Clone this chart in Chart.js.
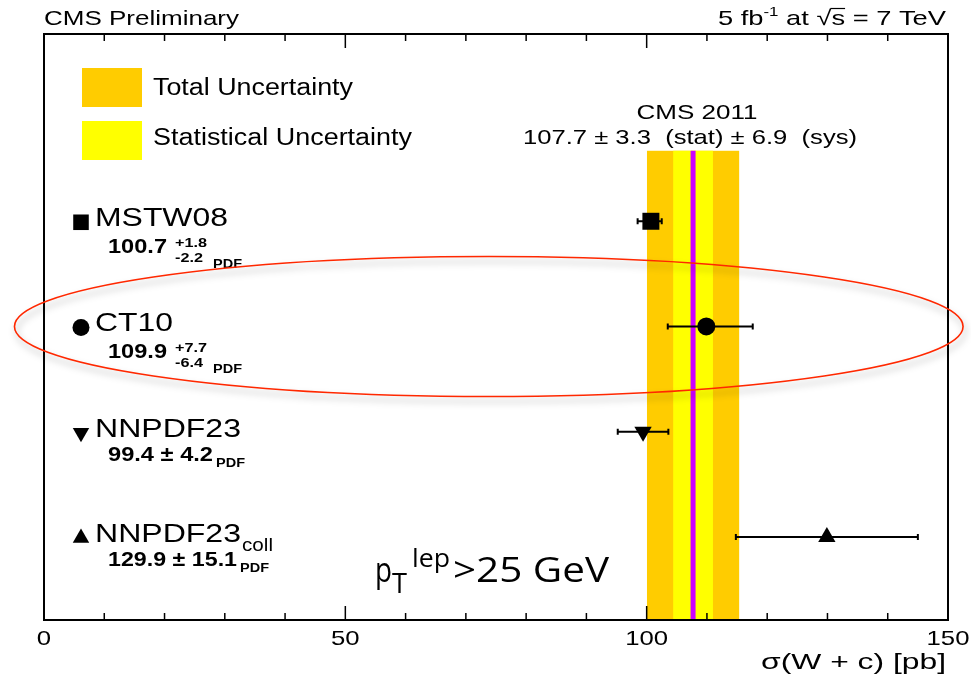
<!DOCTYPE html>
<html>
<head>
<meta charset="utf-8">
<script src="https://cdn.jsdelivr.net/npm/chart.js@4.4.1/dist/chart.umd.min.js"></script>
<style>
  body { margin: 0; background: #fff; }
  #wrap { width: 971px; height: 678px; }
</style>
</head>
<body>
<div id="wrap"><canvas id="c" width="971" height="678"></canvas></div>
<script>
// W+c cross section, CMS 2011 vs PDF predictions
var models = ['MSTW08', 'CT10', 'NNPDF23', 'NNPDF23'];
var modelSub = ['', '', '', 'coll'];
var xsec = [100.7, 109.9, 99.4, 129.9];
var errUp = [1.8, 7.7, 4.2, 15.1];
var errDown = [2.2, 6.4, 4.2, 15.1];
var markers = ['rect', 'circle', 'triangle', 'triangle'];
var markerRot = [0, 0, 180, 0];
var markerSize = [12, 9, 10, 10];

var cmsValue = 107.7;
var cmsStat = 3.3;
var cmsSys = 6.9;

var xTicks = [0, 50, 100, 150];

// text helper: w = target width (stretches horizontally like the ROOT output)
function txt(ctx, s, x, y, font, w, align) {
  ctx.save();
  ctx.font = font;
  ctx.textBaseline = 'alphabetic';
  ctx.textAlign = align || 'left';
  var m = ctx.measureText(s).width;
  var sx = w ? w / m : 1;
  ctx.translate(x, y);
  ctx.scale(sx, 1);
  ctx.fillText(s, 0, 0);
  ctx.restore();
}

var ROOTFONT = 'Liberation Sans';

var figPlugin = {
  id: 'fig',
  beforeDatasetsDraw: function(chart) {
    var ctx = chart.ctx, a = chart.chartArea, x = chart.scales.x, y = chart.scales.y;
    var tot = Math.sqrt(cmsStat * cmsStat + cmsSys * cmsSys);
    var top = y.getPixelForValue(-0.67);
    ctx.save();
    ctx.fillStyle = '#ffcc00';
    var l = x.getPixelForValue(cmsValue - tot), r = x.getPixelForValue(cmsValue + tot);
    ctx.fillRect(l, top, r - l, a.bottom - top);
    ctx.fillStyle = '#ffff00';
    l = x.getPixelForValue(cmsValue - cmsStat); r = x.getPixelForValue(cmsValue + cmsStat);
    ctx.fillRect(l, top, r - l, a.bottom - top);
    ctx.strokeStyle = '#cc00ff';
    ctx.lineWidth = 5;
    var c = x.getPixelForValue(cmsValue);
    ctx.beginPath(); ctx.moveTo(c, top); ctx.lineTo(c, a.bottom); ctx.stroke();

    // error bars
    ctx.strokeStyle = '#000';
    ctx.lineWidth = 2;
    for (var i = 0; i < xsec.length; i++) {
      var py = y.getPixelForValue(i);
      var x0 = x.getPixelForValue(xsec[i] - errDown[i]);
      var x1 = x.getPixelForValue(xsec[i] + errUp[i]);
      ctx.beginPath();
      ctx.moveTo(x0, py); ctx.lineTo(x1, py);
      ctx.moveTo(x0, py - 3); ctx.lineTo(x0, py + 3);
      ctx.moveTo(x1, py - 3); ctx.lineTo(x1, py + 3);
      ctx.stroke();
    }
    ctx.restore();
  },
  afterDatasetsDraw: function(chart) {
    var ctx = chart.ctx, a = chart.chartArea, x = chart.scales.x;
    ctx.save();
    ctx.strokeStyle = '#000';
    ctx.lineWidth = 2;
    ctx.strokeRect(a.left, a.top, a.right - a.left, a.bottom - a.top);
    ctx.lineWidth = 1.5;
    ctx.beginPath();
    for (var v = 0; v <= 150; v += 10) {
      var px = x.getPixelForValue(v);
      var len = (v % 50 === 0) ? 14 : 7;
      ctx.moveTo(px, a.bottom); ctx.lineTo(px, a.bottom - len);
      ctx.moveTo(px, a.top); ctx.lineTo(px, a.top + len);
    }
    ctx.stroke();
    ctx.restore();
  },
  afterDraw: function(chart) {
    var ctx = chart.ctx, a = chart.chartArea, x = chart.scales.x, y = chart.scales.y;
    ctx.save();
    ctx.fillStyle = '#000';

    // tick labels and axis title
    xTicks.forEach(function(v) {
      var s = String(v);
      txt(ctx, s, x.getPixelForValue(v), 645, '21px ' + ROOTFONT, s.length * 14.3, 'center');
    });
    txt(ctx, 'σ(W + c) [pb]', 946, 669, '22px ' + ROOTFONT, 185, 'right');

    // header
    txt(ctx, 'CMS Preliminary', 44, 25, '21px ' + ROOTFONT, 195, 'left');
    var sx = 1.3;
    ctx.font = '21px ' + ROOTFONT;
    var p1 = '5 fb', p3 = ' at ', p4 = '\u221A', p5 = 's', p6 = ' = 7 TeV';
    var w1 = ctx.measureText(p1).width, w3 = ctx.measureText(p3).width,
        w4 = ctx.measureText(p4).width, w5 = ctx.measureText(p5).width, w6 = ctx.measureText(p6).width;
    ctx.font = '13px ' + ROOTFONT;
    var w2 = ctx.measureText('-1').width;
    var total = (w1 + w2 + w3 + w4 + w5 + w6) * sx;
    var cx = 946 - total;
    txt(ctx, p1, cx, 25, '21px ' + ROOTFONT, w1 * sx); cx += w1 * sx;
    txt(ctx, '-1', cx, 16, '13px ' + ROOTFONT, w2 * sx); cx += w2 * sx;
    txt(ctx, p3, cx, 25, '21px ' + ROOTFONT, w3 * sx); cx += w3 * sx;
    txt(ctx, p4, cx, 25, '21px ' + ROOTFONT, w4 * sx);
    var sqStart = cx + w4 * sx - 1; cx += w4 * sx;
    txt(ctx, p5, cx, 25, '21px ' + ROOTFONT, w5 * sx); cx += w5 * sx;
    ctx.lineWidth = 1.2;
    ctx.beginPath(); ctx.moveTo(sqStart, 8.5); ctx.lineTo(cx, 8.5); ctx.stroke();
    txt(ctx, p6, cx, 25, '21px ' + ROOTFONT, w6 * sx);

    // legend
    ctx.fillStyle = '#ffcc00';
    ctx.fillRect(82, 68, 60, 39);
    ctx.fillStyle = '#ffff00';
    ctx.fillRect(82, 121, 60, 39);
    ctx.fillStyle = '#000';
    txt(ctx, 'Total Uncertainty', 153, 95, '23px ' + ROOTFONT, 200);
    txt(ctx, 'Statistical Uncertainty', 153, 145, '23px ' + ROOTFONT, 259);

    // measurement label
    txt(ctx, 'CMS 2011', 697, 119, '20px ' + ROOTFONT, 121, 'center');
    txt(ctx, cmsValue.toFixed(1) + ' \u00B1 ' + cmsStat.toFixed(1) + '  (stat) \u00B1 ' + cmsSys.toFixed(1) + '  (sys)',
        690, 144, '21px ' + ROOTFONT, 334, 'center');

    // row labels
    var nameW = [133, 78, 146, 146];
    for (var i = 0; i < models.length; i++) {
      var ry = y.getPixelForValue(i);
      Chart.helpers.drawPoint(ctx, {
        pointStyle: markers[i], radius: i === 0 ? 11 : markerSize[i] - 0.5, rotation: markerRot[i], borderWidth: 0
      }, 81, ry + 1);
      ctx.fillStyle = '#000';
      txt(ctx, models[i], 95, ry + 5, '26px ' + ROOTFONT, nameW[i]);
      if (modelSub[i]) txt(ctx, modelSub[i], 242, ry + 14, '19px ' + ROOTFONT, 31);
      var bold = 'bold 20px ' + ROOTFONT, small = 'bold 13px ' + ROOTFONT;
      if (errUp[i] !== errDown[i]) {
        txt(ctx, xsec[i].toFixed(1), 108, ry + 32, bold, 59);
        txt(ctx, '+' + errUp[i].toFixed(1), 175, ry + 26, small, 32);
        txt(ctx, '-' + errDown[i].toFixed(1), 175, ry + 41, small, 28);
        txt(ctx, 'PDF', 213, ry + 47, small, 29);
      } else {
        var s = xsec[i].toFixed(1) + ' \u00B1 ' + errUp[i].toFixed(1);
        var sw = i === 2 ? 105 : 129;
        txt(ctx, s, 108, ry + 29.5, bold, sw);
        txt(ctx, 'PDF', 108 + sw + 3, ry + 35, small, 29);
      }
    }

    // pT cut annotation
    var cal = '"Open Sans", sans-serif';
    txt(ctx, 'p', 375, 582, '35px ' + cal, 17);
    txt(ctx, 'T', 392, 593, '27px ' + cal, 15);
    txt(ctx, 'lep', 412, 567, '25px ' + cal, 38);
    txt(ctx, '>25 GeV', 453, 582, '35px ' + cal, 156);

    // red ellipse around CT10
    var ex = x.getPixelForValue(73.8), ey = y.getPixelForValue(1);
    var erx = x.getPixelForValue(73.8 + 78.7) - ex;
    var ery = y.getPixelForValue(1.665) - ey;
    ctx.shadowColor = 'rgba(0,0,0,0.35)';
    ctx.shadowBlur = 7;
    ctx.shadowOffsetX = 2;
    ctx.shadowOffsetY = 5;
    ctx.strokeStyle = 'rgb(255,40,0)';
    ctx.lineWidth = 1.6;
    ctx.beginPath();
    ctx.ellipse(ex, ey, erx, ery, 0, 0, Math.PI * 2);
    ctx.stroke();
    ctx.restore();
  }
};

var ctx = document.getElementById('c');

var chart = new Chart(ctx, {
  type: 'scatter',
  data: {
    datasets: [{
      label: 'PDF predictions',
      data: xsec.map(function(v, i) { return { x: v, y: i }; }),
      backgroundColor: '#000',
      borderWidth: 0,
      pointStyle: markers,
      pointRotation: markerRot,
      pointRadius: markerSize,
      pointHoverRadius: markerSize
    }]
  },
  options: {
    responsive: false,
    devicePixelRatio: 1,
    animation: false,
    layout: { padding: { left: 44, right: 23, top: 34, bottom: 58 } },
    plugins: { legend: { display: false }, tooltip: { enabled: false } },
    scales: {
      x: { type: 'linear', min: 0, max: 150, display: false },
      y: { type: 'linear', min: -1.78, max: 3.79, reverse: true, display: false }
    }
  },
  plugins: [figPlugin]
});
</script>
</body>
</html>
